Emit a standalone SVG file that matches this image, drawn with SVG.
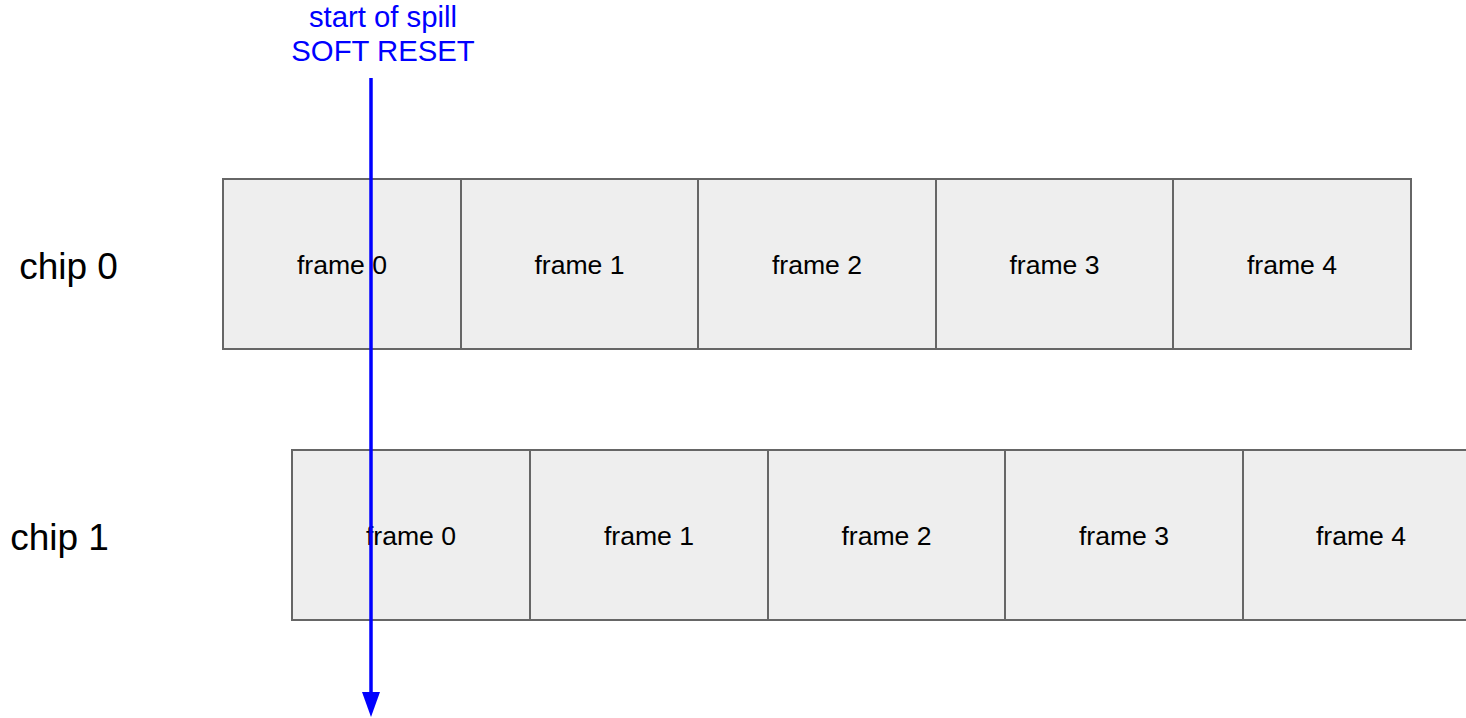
<svg xmlns="http://www.w3.org/2000/svg" width="1466" height="718" viewBox="0 0 1466 718">
<style>
.fr{fill:#eeeeee;stroke:#666666;stroke-width:2}
.ft{font-family:"Liberation Sans",Arial,sans-serif;font-size:26.6px;fill:#000;text-anchor:middle}
.cl{font-family:"Liberation Sans",Arial,sans-serif;font-size:37px;fill:#000;text-anchor:middle}
.bl{font-family:"Liberation Sans",Arial,sans-serif;font-size:29.3px;fill:#0000ff;text-anchor:middle}
</style>
<rect width="1466" height="718" fill="#ffffff"/>
<g id="chip0-label"><text class="cl" x="68.5" y="279">chip 0</text></g>
<g id="chip1-label"><text class="cl" x="59.5" y="550">chip 1</text></g>
<g id="c0f0"><rect class="fr" x="223" y="179" width="238" height="170"/><text class="ft" x="342" y="274">frame 0</text></g>
<g id="c0f1"><rect class="fr" x="461" y="179" width="237" height="170"/><text class="ft" x="579.5" y="274">frame 1</text></g>
<g id="c0f2"><rect class="fr" x="698" y="179" width="238" height="170"/><text class="ft" x="817" y="274">frame 2</text></g>
<g id="c0f3"><rect class="fr" x="936" y="179" width="237" height="170"/><text class="ft" x="1054.5" y="274">frame 3</text></g>
<g id="c0f4"><rect class="fr" x="1173" y="179" width="238" height="170"/><text class="ft" x="1292" y="274">frame 4</text></g>
<g id="c1f0"><rect class="fr" x="292" y="450" width="238" height="170"/><text class="ft" x="411" y="545">frame 0</text></g>
<g id="c1f1"><rect class="fr" x="530" y="450" width="238" height="170"/><text class="ft" x="649" y="545">frame 1</text></g>
<g id="c1f2"><rect class="fr" x="768" y="450" width="237" height="170"/><text class="ft" x="886.5" y="545">frame 2</text></g>
<g id="c1f3"><rect class="fr" x="1005" y="450" width="238" height="170"/><text class="ft" x="1124" y="545">frame 3</text></g>
<g id="c1f4"><rect class="fr" x="1243" y="450" width="238" height="170"/><text class="ft" x="1361" y="545">frame 4</text></g>
<g id="spill-label"><text class="bl" x="383" y="27">start of spill</text><text class="bl" x="383" y="61">SOFT RESET</text></g>
<g id="connectors">
<line x1="371" y1="78" x2="371" y2="695" stroke="#0000ff" stroke-width="3.5"/>
<polygon points="362,692 380,692 371,717" fill="#0000ff"/>
</g>
</svg>
